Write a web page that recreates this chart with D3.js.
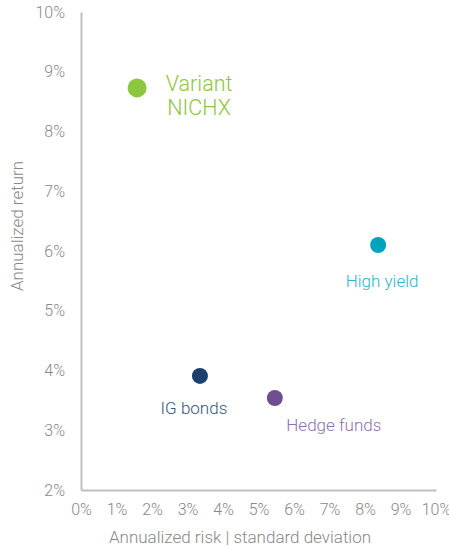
<!DOCTYPE html>
<html>
<head>
<meta charset="utf-8">
<script src="https://cdn.jsdelivr.net/npm/d3@7"></script>
<style>
  body { margin: 0; background: #fff; }
  text { font-family: Roboto, sans-serif; font-weight: 300; }
</style>
</head>
<body>
<div class="chart"></div>
<script>
// data
const names = ["Variant NICHX", "High yield", "IG bonds", "Hedge funds"];
const risk = [1.58, 8.37, 3.35, 5.46];
const ret = [8.73, 6.10, 3.91, 3.54];
const xTicks = [0, 1, 2, 3, 4, 5, 6, 7, 8, 9, 10];
const yTicks = [2, 3, 4, 5, 6, 7, 8, 9, 10];

const dotColors = ["#8dc63f", "#00a3be", "#1c3f6e", "#6d4f8f"];
const labelColors = ["#8dc63f", "#2fb3cc", "#34557f", "#8f72ad"];

let margin = {top: 12, bottom: 56, left: 81, right: 13};
const width = 449 - margin.left - margin.right,
  height = 546 - margin.top - margin.bottom;

const svg = d3.select(".chart").append("svg")
  .attr("width", 449)
  .attr("height", 546)
  .append("g")
  .attr("transform", "translate(" + margin.left + "," + margin.top + ")");

let xScale = d3.scaleLinear().domain([0, 10]).range([0, width]);
let yScale = d3.scaleLinear().domain([2, 10]).range([height, 0]);

const f = d => d + "%";

svg.append("g")
  .attr("class", "axis x-axis")
  .attr("transform", `translate(0, ${height})`)
  .call(d3.axisBottom(xScale).tickValues(xTicks).tickFormat(f).tickSize(0).tickPadding(14))
  .call(g => g.select(".domain").attr("stroke", "#bfbfbf").attr("stroke-width", 2))
  .call(g => g.selectAll("text").attr("fill", "#888").attr("font-size", 16));

svg.append("g")
  .attr("class", "axis y-axis")
  .call(d3.axisLeft(yScale).tickValues(yTicks).tickFormat(f).tickSize(0).tickPadding(16))
  .call(g => g.select(".domain").attr("stroke", "#bfbfbf").attr("stroke-width", 2))
  .call(g => g.selectAll("text").attr("fill", "#888").attr("font-size", 16));

svg.append("text")
  .attr("x", 240 - margin.left)
  .attr("y", height + 53)
  .attr("text-anchor", "middle")
  .attr("fill", "#888")
  .attr("font-size", 17)
  .text("Annualized risk | standard deviation");

svg.append("text")
  .attr("transform", `translate(${-58}, ${226 - margin.top}) rotate(-90)`)
  .attr("text-anchor", "middle")
  .attr("fill", "#888")
  .attr("font-size", 17)
  .text("Annualized return");

const data = names.map((n, i) => ({name: n, x: risk[i], y: ret[i], c: dotColors[i], lc: labelColors[i]}));

svg.selectAll("circle")
  .data(data)
  .enter()
  .append("circle")
  .attr("cx", d => xScale(d.x))
  .attr("cy", d => yScale(d.y))
  .attr("r", (d, i) => i === 0 ? 9.5 : 8)
  .attr("fill", d => d.c);

// Variant label to the right, two lines
const v = data[0];
const vx = xScale(v.x) + 62;
const vl = svg.append("text")
  .attr("x", vx)
  .attr("y", yScale(v.y) + 3)
  .attr("text-anchor", "middle")
  .attr("fill", v.lc)
  .attr("font-size", 21.5)
  .attr("font-weight", 400);
vl.append("tspan").attr("x", vx).text("Variant");
vl.append("tspan").attr("x", vx).attr("dy", 24).text("NICHX");

// other labels below the dots
const offs = [null, [4, 42], [-6, 38], [59, 33]];
svg.selectAll(".lbl")
  .data(data.slice(1))
  .enter()
  .append("text")
  .attr("class", "lbl")
  .attr("x", (d, i) => xScale(d.x) + offs[i + 1][0])
  .attr("y", (d, i) => yScale(d.y) + offs[i + 1][1])
  .attr("text-anchor", "middle")
  .attr("fill", d => d.lc)
  .attr("font-size", 17)
  .text(d => d.name);
</script>
</body>
</html>
